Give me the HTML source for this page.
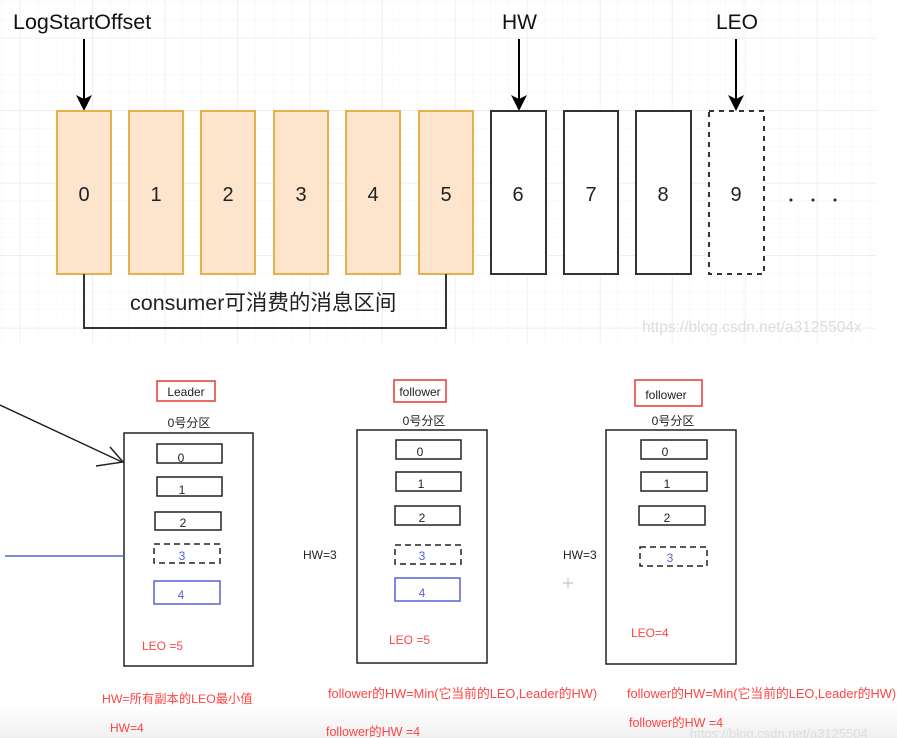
<!DOCTYPE html>
<html><head><meta charset="utf-8"><style>
html,body{margin:0;padding:0;background:#fff;}
svg{display:block;}
text{font-family:"Liberation Sans","Noto Sans CJK SC",sans-serif;}
</style></head><body>
<svg width="897" height="738" viewBox="0 0 897 738" xmlns="http://www.w3.org/2000/svg">
<defs>
<pattern id="g" x="2" y="2" width="18.1" height="18.1" patternUnits="userSpaceOnUse">
<path d="M18.1 0V18.1M0 18.1H18.1" stroke="#f4f4f4" stroke-width="1" fill="none"/>
</pattern>
<pattern id="G" x="20" y="38" width="72.5" height="72.5" patternUnits="userSpaceOnUse">
<path d="M0 0V72.5M0 0H72.5" stroke="#e8e8e8" stroke-width="1" fill="none"/>
</pattern>
<linearGradient id="bg" x1="0" y1="0" x2="0" y2="1">
<stop offset="0" stop-color="#fff"/><stop offset="1" stop-color="#f0f0f0"/>
</linearGradient>
</defs>
<rect x="0" y="0" width="877" height="343" fill="url(#g)"/>
<rect x="0" y="0" width="877" height="343" fill="url(#G)"/>
<rect x="0" y="705" width="897" height="33" fill="url(#bg)"/>

<text x="13" y="29" font-size="21.5" fill="#111">LogStartOffset</text>
<text x="502" y="29" font-size="21" fill="#111">HW</text>
<text x="716" y="29" font-size="21" fill="#111">LEO</text>
<g stroke="#000" stroke-width="2">
<line x1="84" y1="39" x2="84" y2="100"/><line x1="519" y1="39" x2="519" y2="100"/><line x1="736" y1="39" x2="736" y2="100"/>
</g>
<g fill="#000">
<path d="M76 95L84 111L92 95L84 99Z"/><path d="M511 95L519 111L527 95L519 99Z"/><path d="M728 95L736 111L744 95L736 99Z"/>
</g>

<g fill="#fde5cd" stroke="#e6b04e" stroke-width="2">
<rect x="57" y="111" width="54" height="163"/><rect x="129" y="111" width="54" height="163"/>
<rect x="201" y="111" width="54" height="163"/><rect x="274" y="111" width="54" height="163"/>
<rect x="346" y="111" width="54" height="163"/><rect x="419" y="111" width="54" height="163"/>
</g>
<g fill="#fff" stroke="#333" stroke-width="2">
<rect x="491" y="111" width="55" height="163"/><rect x="564" y="111" width="54" height="163"/>
<rect x="636" y="111" width="55" height="163"/>
<rect x="709" y="111" width="55" height="163" stroke-dasharray="5,5"/>
</g>
<g font-size="20" fill="#222" text-anchor="middle">
<text x="84" y="201">0</text><text x="156" y="201">1</text><text x="228" y="201">2</text>
<text x="301" y="201">3</text><text x="373" y="201">4</text><text x="446" y="201">5</text>
<text x="518" y="201">6</text><text x="591" y="201">7</text><text x="663" y="201">8</text>
<text x="736" y="201">9</text>
</g>
<g fill="#222"><circle cx="791" cy="200" r="1.5"/><circle cx="813" cy="200" r="1.5"/><circle cx="835" cy="200" r="1.5"/></g>
<path d="M84 274V328H446V274" fill="none" stroke="#333" stroke-width="2"/>
<text x="130" y="310" font-size="21.5" fill="#222">consumer可消费的消息区间</text>
<text x="642" y="332" font-size="15.5" fill="#ddd">https://blog.csdn.net/a3125504x</text>

<rect x="157" y="381" width="58" height="20" fill="none" stroke="#e53935" stroke-width="1.5"/>
<text x="186" y="396" font-size="12" fill="#222" text-anchor="middle">Leader</text>
<text x="189" y="427" font-size="12" fill="#222" text-anchor="middle">0号分区</text>
<rect x="124" y="433" width="129" height="233" fill="none" stroke="#222" stroke-width="1.5"/>
<line x1="0" y1="405" x2="122" y2="462" stroke="#222" stroke-width="1.5"/>
<path d="M110 447L123 462L96 466" fill="none" stroke="#222" stroke-width="1.5"/>
<line x1="5" y1="556" x2="124" y2="556" stroke="#5562d6" stroke-width="1.5"/>
<g fill="none" stroke="#222" stroke-width="1.5">
<rect x="157" y="444" width="65" height="19"/><rect x="157" y="477" width="65" height="19"/>
<rect x="155" y="512" width="66" height="18"/><rect x="154" y="544" width="66" height="19" stroke-dasharray="6,4"/>
</g>
<rect x="154" y="581" width="66" height="23" fill="none" stroke="#5562d6" stroke-width="1.5"/>
<g font-size="12" text-anchor="middle" fill="#222">
<text x="181" y="462">0</text><text x="182" y="494">1</text><text x="183" y="527">2</text>
<text x="182" y="560" fill="#5562d6">3</text><text x="181" y="599" fill="#5562d6">4</text>
</g>
<text x="142" y="650" font-size="12" fill="#f44">LEO =5</text>
<text x="102" y="703" font-size="12.3" fill="#f44">HW=所有副本的LEO最小值</text>
<text x="110" y="732" font-size="12" fill="#f44">HW=4</text>

<rect x="394" y="380" width="52" height="22" fill="none" stroke="#e53935" stroke-width="1.5"/>
<text x="420" y="396" font-size="12" fill="#222" text-anchor="middle">follower</text>
<text x="424" y="425" font-size="12" fill="#222" text-anchor="middle">0号分区</text>
<rect x="357" y="430" width="130" height="233" fill="none" stroke="#222" stroke-width="1.5"/>
<g fill="none" stroke="#222" stroke-width="1.5">
<rect x="396" y="440" width="65" height="19"/><rect x="396" y="472" width="65" height="19"/>
<rect x="395" y="506" width="65" height="19"/><rect x="395" y="545" width="66" height="19" stroke-dasharray="6,4"/>
</g>
<rect x="395" y="578" width="65" height="23" fill="none" stroke="#5562d6" stroke-width="1.5"/>
<g font-size="12" text-anchor="middle" fill="#222">
<text x="420" y="456">0</text><text x="421" y="488">1</text><text x="422" y="522">2</text>
<text x="422" y="560" fill="#5562d6">3</text><text x="422" y="597" fill="#5562d6">4</text>
</g>
<text x="303" y="559" font-size="12" fill="#222">HW=3</text>
<text x="389" y="644" font-size="12" fill="#f44">LEO =5</text>
<text x="328" y="698" font-size="12.8" fill="#f44">follower的HW=Min(它当前的LEO,Leader的HW)</text>
<text x="326" y="736" font-size="12.5" fill="#f44">follower的HW =4</text>

<rect x="635" y="380" width="67" height="26" fill="none" stroke="#e53935" stroke-width="1.5"/>
<text x="666" y="399" font-size="12" fill="#222" text-anchor="middle">follower</text>
<text x="673" y="425" font-size="12" fill="#222" text-anchor="middle">0号分区</text>
<rect x="606" y="430" width="130" height="234" fill="none" stroke="#222" stroke-width="1.5"/>
<g fill="none" stroke="#222" stroke-width="1.5">
<rect x="641" y="440" width="66" height="19"/><rect x="641" y="472" width="66" height="19"/>
<rect x="639" y="506" width="66" height="19"/><rect x="640" y="547" width="67" height="19" stroke-dasharray="6,4"/>
</g>
<g font-size="12" text-anchor="middle" fill="#222">
<text x="665" y="456">0</text><text x="667" y="488">1</text><text x="667" y="522">2</text>
<text x="670" y="562" fill="#5562d6">3</text>
</g>
<text x="563" y="559" font-size="12" fill="#222">HW=3</text>
<path d="M568 578V588M563 583H573" stroke="#bbb" stroke-width="1"/>
<text x="631" y="637" font-size="12" fill="#f44">LEO=4</text>
<text x="627" y="698" font-size="12.8" fill="#f44">follower的HW=Min(它当前的LEO,Leader的HW)</text>
<text x="629" y="727" font-size="12.5" fill="#f44">follower的HW =4</text>
<text x="690" y="738" font-size="13" fill="#ddd">https://blog.csdn.net/a3125504</text>
</svg>
</body></html>
